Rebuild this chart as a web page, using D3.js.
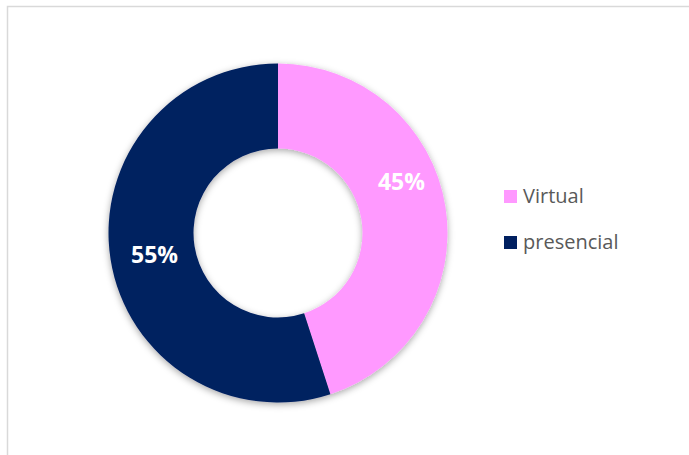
<!DOCTYPE html>
<html><head><meta charset="utf-8">
<script src="https://cdn.jsdelivr.net/npm/d3@7"></script>
<style>html,body{margin:0;padding:0;background:#fff;}svg{display:block;}</style>
</head><body>
<script>
const categories = ["Virtual", "presencial"];
const values = [45, 55];
const labels = ["45%", "55%"];
const colors = ["#FF99FF", "#002060"];

const W = 689, H = 455;
const svg = d3.select("body").append("svg").attr("width", W).attr("height", H);

// frame
svg.append("rect").attr("x", 7.5).attr("y", 6.5).attr("width", W + 10).attr("height", H + 10)
  .attr("fill", "#fff").attr("stroke", "#d9d9d9").attr("stroke-width", 1.5);

const defs = svg.append("defs");
const f = defs.append("filter").attr("id", "sh").attr("x", "-20%").attr("y", "-20%").attr("width", "140%").attr("height", "140%");
f.append("feDropShadow").attr("dx", 0).attr("dy", 2).attr("stdDeviation", 3.5)
  .attr("flood-color", "#000").attr("flood-opacity", 0.35);

const cx = 278, cy = 233, R = 169.5, r = 84.5;
const pie = d3.pie().sort(null).value(d => d);
const arcs = pie(values);
const arc = d3.arc().innerRadius(r).outerRadius(R);

const g = svg.append("g").attr("transform", `translate(${cx},${cy})`);
g.append("g").attr("filter", "url(#sh)")
  .selectAll("path").data(arcs).join("path")
  .attr("d", arc).attr("fill", (d, i) => colors[i]);

const labelShift = [[-2, -31], [2, 2]];
g.selectAll("text.lbl").data(arcs).join("text").attr("class", "lbl")
  .attr("transform", (d, i) => {
    const c = arc.centroid(d);
    return `translate(${c[0] + labelShift[i][0]},${c[1] + labelShift[i][1]})`;
  })
  .attr("text-anchor", "middle").attr("dy", "0.36em")
  .attr("font-family", "'Open Sans', sans-serif").attr("font-weight", "bold")
  .attr("font-size", 23).attr("fill", "#fff")
  .text((d, i) => labels[i]);

// legend
const leg = svg.append("g").attr("transform", "translate(504,190)");
const items = leg.selectAll("g").data(categories).join("g")
  .attr("transform", (d, i) => `translate(0,${i * 46})`);
items.append("rect").attr("width", 13).attr("height", 13).attr("fill", (d, i) => colors[i]);
items.append("text").attr("x", 19).attr("y", 13)
  .attr("font-family", "'Open Sans', sans-serif").attr("font-size", 20).attr("fill", "#595959")
  .text(d => d);
</script>
</body></html>
